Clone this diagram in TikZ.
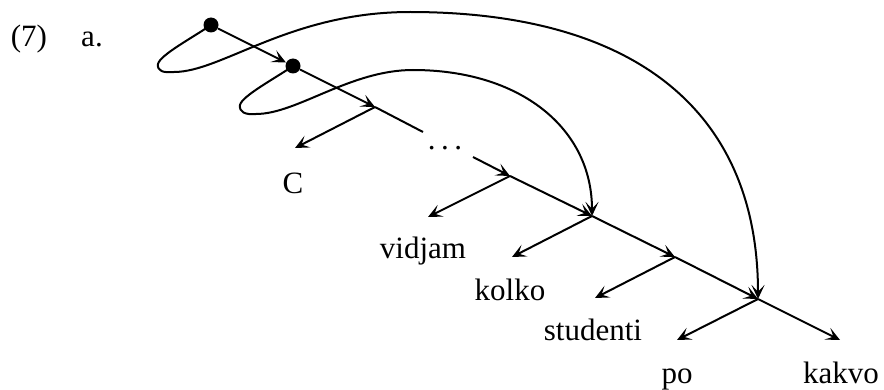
\documentclass[tikz,border=0pt]{standalone}
\usepackage{fontspec}
\setmainfont{Liberation Serif}
\usetikzlibrary{arrows.meta}
\begin{document}
\begin{tikzpicture}[x=0.5pt,y=-0.5pt,
  every node/.style={font=\fontsize{15.5}{17}\selectfont, inner sep=0pt},
  conn/.style={line width=1pt, -{Stealth[length=7pt,width=6.5pt,inset=3.3pt]}},
  plain/.style={line width=1pt},
  lab/.style={anchor=base},
  dotnode/.style={circle, fill=black, minimum size=7.5pt, inner sep=0pt}]
\useasboundingbox (0,0) rectangle (884,390);
% main nodes
\node[dotnode] (n0) at (211,25) {};
\node[dotnode] (n1) at (293,66) {};
\coordinate (n2) at (375,107);
\coordinate (g1) at (423,132);
\coordinate (g2) at (473,157);
\coordinate (n3) at (510,176);
\coordinate (n4) at (592,216);
\coordinate (n5) at (675,257);
\coordinate (n6) at (758,299);
\coordinate (n7) at (840,340);
% branch ends
\coordinate (b2) at (295,148);
\coordinate (b3) at (428,217);
\coordinate (b4) at (512,257);
\coordinate (b5) at (595,298);
\coordinate (b6) at (677,340);
% labels
\node[lab] (t0) at (29,47) {(7)};
\node[lab] (t1) at (92,47) {a.};
\node[lab] (lc) at (293,193) {C};
\node[lab] (lv) at (423,258) {vidjam};
\node[lab] (lk) at (510,300) {kolko};
\node[lab] (ls) at (593,340) {studenti};
\node[lab] (lp) at (677,383) {po};
\node[lab] (lkv) at (841,383) {kakvo};
\node[lab] (dots) at (445,149) {.\hspace{2.8pt}.\hspace{2.8pt}.};
% spine
\draw[conn] (n0) -- (n1);
\draw[conn] (n1) -- (n2);
\draw[plain] (n2) -- (g1);
\draw[conn] (g2) -- (n3);
\draw[conn] (n3) -- (n4);
\draw[conn] (n4) -- (n5);
\draw[conn] (n5) -- (n6);
\draw[conn] (n6) -- (n7);
% branches
\draw[conn] (n2) -- (b2);
\draw[conn] (n3) -- (b3);
\draw[conn] (n4) -- (b4);
\draw[conn] (n5) -- (b5);
\draw[conn] (n6) -- (b6);
% movement arcs
\draw[conn] (n0.center) .. controls (192,38) and (160,55) .. (158,64)
  .. controls (157,71) and (163,73) .. (174,72)
  .. controls (222,72) and (290,12) .. (410,12)
  .. controls (636,12) and (758,112) .. (n6);
\draw[conn] (n1.center) .. controls (274,79) and (242,96) .. (240,105)
  .. controls (239,112) and (245,115) .. (256,114)
  .. controls (297,114) and (350,70) .. (413,70)
  .. controls (520,70) and (592,128) .. (n4);
\end{tikzpicture}
\end{document}
